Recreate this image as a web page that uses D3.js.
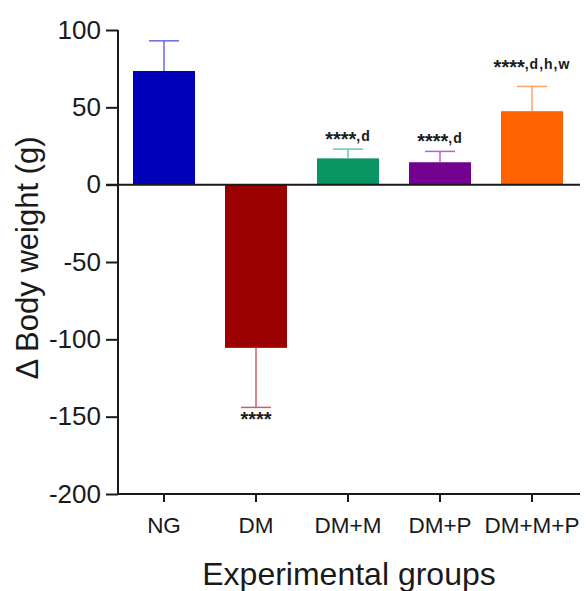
<!DOCTYPE html>
<html>
<head>
<meta charset="utf-8">
<script src="https://cdn.jsdelivr.net/npm/d3@7"></script>
<style>
  body { margin: 0; background: #fff; }
  svg { display: block; font-family: "Liberation Sans", Arial, sans-serif; }
</style>
</head>
<body>
<svg id="chart"></svg>
<script>
const groups = ["NG", "DM", "DM+M", "DM+P", "DM+M+P"];
const means = [73.5, -105.5, 17, 14.5, 47.5];
const sds = [19.5, 38.5, 6, 7, 16];
const stars = ["", "****", "****", "****", "****"];
const letters = ["", "", ",d", ",d", ",d,h,w"];
const barColors = ["#0000b8", "#9b0000", "#0a9662", "#74008f", "#ff6200"];
const errColors = ["#6a6ae0", "#d06060", "#6cc6a2", "#b262d2", "#ffa070"];
const yTicks = [100, 50, 0, -50, -100, -150, -200];

const width = 588;
const height = 591;
const font = "'Liberation Sans', Arial, sans-serif";
const ink = "#1a1a1a";

let svg = d3.select("#chart").attr("width", width).attr("height", height);

let x = d3.scaleBand()
  .domain(groups)
  .range([118, 578])
  .paddingInner(0.326)
  .paddingOuter(0.163);

let y = d3.scaleLinear().domain([-200, 100]).range([494, 30]);

let idx = groups.map((g, i) => i);
let cx = (i) => x(groups[i]) + x.bandwidth() / 2;

// bars
svg.selectAll(".bar")
  .data(idx)
  .enter()
  .append("rect")
  .attr("x", (i) => x(groups[i]))
  .attr("width", x.bandwidth())
  .attr("y", (i) => y(Math.max(0, means[i])))
  .attr("height", (i) => Math.abs(y(means[i]) - y(0)))
  .attr("fill", (i) => barColors[i]);

// error bars (one-sided, away from zero)
let errTip = (i) => means[i] + (means[i] >= 0 ? sds[i] : -sds[i]);
let err = svg.selectAll(".err").data(idx).enter().append("g");
err.append("line")
  .attr("x1", cx)
  .attr("x2", cx)
  .attr("y1", (i) => y(means[i]))
  .attr("y2", (i) => y(errTip(i)))
  .attr("stroke", (i) => errColors[i])
  .attr("stroke-width", 1.5);
err.append("line")
  .attr("x1", (i) => cx(i) - 15)
  .attr("x2", (i) => cx(i) + 15)
  .attr("y1", (i) => y(errTip(i)))
  .attr("y2", (i) => y(errTip(i)))
  .attr("stroke", (i) => errColors[i])
  .attr("stroke-width", 1.5);

// significance marks: big asterisks at mid height, then letters
let mark = svg.selectAll(".mark")
  .data(idx.filter((i) => stars[i]))
  .enter()
  .append("text")
  .attr("x", cx)
  .attr("y", (i) => {
    if (means[i] < 0) return y(errTip(i)) + 14;
    return y(errTip(i)) - (i === 4 ? 17 : 8);
  })
  .attr("text-anchor", "middle")
  .attr("font-weight", "bold")
  .attr("fill", ink);
mark.append("tspan")
  .attr("font-size", 20)
  .attr("dy", 4.5)
  .text((i) => stars[i]);
mark.append("tspan")
  .attr("font-size", 14)
  .attr("letter-spacing", 1)
  .attr("dy", -4.5)
  .text((i) => letters[i]);

// y axis
let yAxis = svg.append("g")
  .attr("transform", "translate(118,0)")
  .call(d3.axisLeft(y).tickValues(yTicks).tickSize(12).tickPadding(5).tickFormat((d) => String(d)));
yAxis.select(".domain").attr("stroke", ink).attr("stroke-width", 2).attr("d", "M0,30V494");
yAxis.selectAll(".tick line").attr("stroke", ink).attr("stroke-width", 2);
yAxis.selectAll("text").attr("font-size", 26).attr("fill", ink).attr("font-family", font);

// zero line
svg.append("line")
  .attr("x1", 106).attr("x2", 580)
  .attr("y1", y(0)).attr("y2", y(0))
  .attr("stroke", ink).attr("stroke-width", 2);

// x axis
let xAxis = svg.append("g")
  .attr("transform", "translate(0," + y(-200) + ")")
  .call(d3.axisBottom(x).tickSize(8));
xAxis.select(".domain").attr("stroke", ink).attr("stroke-width", 2).attr("d", "M117,0H580");
xAxis.selectAll(".tick line").attr("stroke", ink).attr("stroke-width", 2);
xAxis.selectAll("text")
  .attr("y", 39).attr("dy", null)
  .attr("font-size", 22.5).attr("fill", ink).attr("font-family", font);

// axis titles
svg.append("text")
  .attr("transform", "translate(38,258) rotate(-90)")
  .attr("text-anchor", "middle")
  .attr("font-size", 31)
  .attr("fill", ink)
  .text("\u0394 Body weight (g)");

svg.append("text")
  .attr("x", 349)
  .attr("y", 585)
  .attr("text-anchor", "middle")
  .attr("font-size", 32)
  .attr("fill", ink)
  .text("Experimental groups");
</script>
</body>
</html>
